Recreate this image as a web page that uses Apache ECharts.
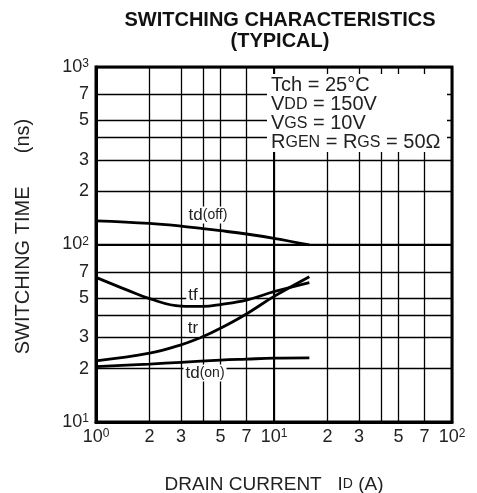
<!DOCTYPE html>
<html>
<head>
<meta charset="utf-8">
<script src="https://cdn.jsdelivr.net/npm/echarts@6/dist/echarts.min.js"></script>
<style>html,body{margin:0;padding:0;background:#fff}#c{width:477px;height:493px}</style>
</head>
<body>
<div id="c"></div>
<script>
// ---- data ----
const xGridValues = [1, 2, 3, 4, 5, 7, 10, 20, 30, 40, 50, 70, 100];
const xTickLabels = [1, 2, 3, 5, 7, 10, 20, 30, 50, 70, 100];
const yGridValues = [10, 20, 30, 40, 50, 70, 100, 200, 300, 400, 500, 700, 1000];
const yTickLabels = [10, 20, 30, 50, 70, 100, 200, 300, 500, 700, 1000];

const tdOffX = [1, 2, 3, 4, 5, 7, 10, 15.8];
const tdOffY = [136, 131.6, 127, 122.7, 119.6, 114.6, 108.4, 99.5];

const tfX = [1, 1.5, 2, 3, 4, 5, 7, 10, 15.8];
const tfY = [65.3, 55.3, 49.5, 45, 44.8, 45.9, 48.6, 54.2, 61];

const trX = [1, 2, 3, 4, 5, 7, 10, 15.8];
const trY = [22.1, 24.4, 27.2, 30.3, 33.7, 40.6, 51, 65.9];

const tdOnX = [1, 2, 3, 5, 7, 10, 15.8];
const tdOnY = [20.5, 21.2, 21.7, 22.3, 22.6, 22.9, 23.0];

const conditions = [
  'Tch = 25°C',
  'V{s|DD} = 150V',
  'V{s|GS} = 10V',
  'R{s|GEN} = R{s|GS} = 50Ω'
];

function pairs(xs, ys) { return xs.map((x, i) => [x, ys[i]]); }

function tickFmt(v) {
  const e = Math.round(Math.log10(v));
  if (Math.abs(Math.pow(10, e) - v) < 1e-6 * v) return '{b|10}{s|' + e + '}';
  const m = Math.round(v / Math.pow(10, Math.floor(Math.log10(v) + 1e-9)));
  return '{b|' + m + '}';
}

const FONT = '"Liberation Sans", Arial, Helvetica, sans-serif';
const labelRich = {
  b: { fontSize: 18, lineHeight: 18, color: '#222', fontFamily: FONT },
  s: { fontSize: 12, lineHeight: 12, verticalAlign: 'top', color: '#222', fontFamily: FONT }
};

const lineStyle = { color: '#000', width: 2.8 };
function curve(name, xs, ys) {
  return {
    name, type: 'line', data: pairs(xs, ys), smooth: 0.4, showSymbol: false,
    symbol: 'none', lineStyle, z: 5, silent: true
  };
}

const chart = echarts.init(document.getElementById('c'), null, { renderer: 'canvas' });

const series = [
  curve('td(off)', tdOffX, tdOffY),
  curve('tf', tfX, tfY),
  curve('tr', trX, trY),
  curve('td(on)', tdOnX, tdOnY)
];
series[0].markLine = {
  silent: true, symbol: 'none', label: { show: false },
  lineStyle: { color: '#000', width: 2, type: 'solid' },
  data: [{ xAxis: 10 }, { yAxis: 100 }]
};

function curveLabel(x, y, rich) {
  return {
    type: 'text', x, y, z: 20,
    style: {
      text: rich, align: 'center', verticalAlign: 'middle',
      backgroundColor: '#fff', padding: [0, 2],
      rich: {
        a: { fontSize: 17, fontFamily: FONT, fill: '#222' },
        p: { fontSize: 14, fontFamily: FONT, fill: '#222' }
      }
    }
  };
}

const graphics = [
  { type: 'rect', shape: { x: 267, y: 74, width: 180, height: 78 }, style: { fill: '#fff' }, z: 15 },
  curveLabel(208, 215, '{a|td}{p|(off)}'),
  curveLabel(193, 295, '{a|tf}'),
  curveLabel(193, 328, '{a|tr}'),
  curveLabel(205, 373, '{a|td}{p|(on)}')
];
conditions.forEach((t, i) => {
  graphics.push({
    type: 'text', x: 271, y: 85 + i * 19.3, z: 20,
    style: {
      text: '{m|' + t.replace(/\{s\|([^}]*)\}/g, '}{s|$1}{m|') + '}',
      align: 'left', verticalAlign: 'middle',
      rich: {
        m: { fontSize: 20, fontFamily: FONT, fill: '#222' },
        s: { fontSize: 16, fontFamily: FONT, fill: '#222' }
      }
    }
  });
});

chart.setOption({
  backgroundColor: '#fff',
  animation: false,
  title: {
    text: 'SWITCHING CHARACTERISTICS\n(TYPICAL)',
    left: 275, top: 5, textAlign: 'center',
    textStyle: { fontSize: 20, fontWeight: 'bold', fontFamily: FONT, color: '#111', lineHeight: 21 }
  },
  grid: {
    left: 96, right: 25, top: 67, bottom: 71, show: true, borderColor: '#000', borderWidth: 3,
    backgroundColor: 'transparent', containLabel: false, outerBoundsMode: 'none'
  },
  xAxis: {
    type: 'log', logBase: 10, min: 1, max: 100,
    name: 'DRAIN CURRENT   I{s|D} (A)', nameLocation: 'middle', nameGap: 53,
    nameTextStyle: {
      fontSize: 19, fontFamily: FONT, color: '#222',
      rich: { s: { fontSize: 14, fontFamily: FONT, color: '#222' } }
    },
    axisLine: { show: true, lineStyle: { color: '#000', width: 3 } },
    axisTick: { show: false, customValues: xGridValues },
    axisLabel: { customValues: xTickLabels, formatter: tickFmt, rich: labelRich, margin: 6, hideOverlap: false },
    splitLine: { show: true, lineStyle: { color: '#000', width: 1.3 } },
    minorSplitLine: { show: false }
  },
  yAxis: {
    type: 'log', logBase: 10, min: 10, max: 1000,
    name: 'SWITCHING TIME      (ns)', nameLocation: 'middle', nameGap: 63,
    nameTextStyle: { fontSize: 20, fontFamily: FONT, color: '#222', padding: [0, 0, 0, 16] },
    axisLine: { show: true, lineStyle: { color: '#000', width: 3 } },
    axisTick: { show: false, customValues: yGridValues },
    axisLabel: { customValues: yTickLabels, formatter: tickFmt, rich: labelRich, margin: 7, hideOverlap: false },
    splitLine: { show: true, lineStyle: { color: '#000', width: 1.3 } }
  },
  graphic: graphics,
  series
});
</script>
</body>
</html>
